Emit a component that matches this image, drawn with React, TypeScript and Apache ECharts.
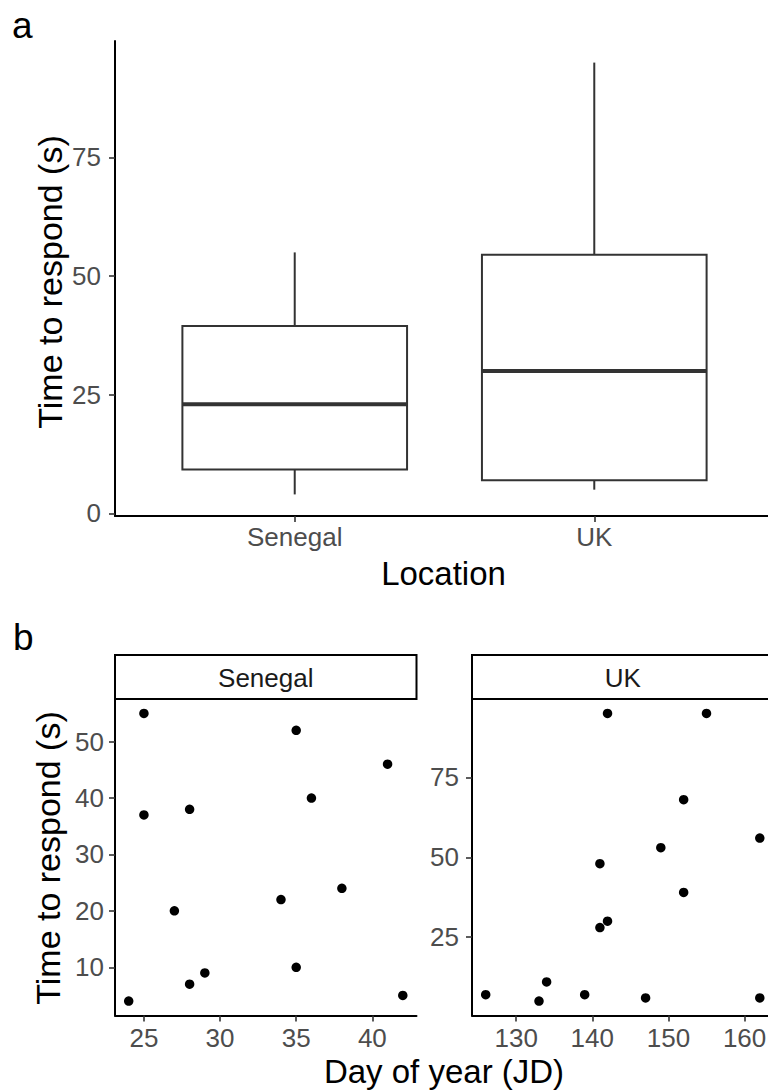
import React, { useEffect, useRef } from "react";
import * as echarts from "echarts";

// ---------- data ----------
const locations = ["Senegal", "UK"];
// box statistics per location: [lower whisker, Q1, median, Q3, upper whisker]
const senegalBox = [4, 9.25, 23, 39.5, 55];
const ukBox = [5, 7, 30, 54.5, 95];
const boxYTicks = [0, 25, 50, 75];

const senegalDay = [24, 25, 25, 27, 28, 28, 29, 34, 35, 35, 36, 38, 41, 42];
const senegalTime = [4, 55, 37, 20, 38, 7, 9, 22, 52, 10, 40, 24, 46, 5];
const ukDay = [126, 133, 134, 139, 141, 141, 142, 142, 147, 149, 152, 152, 155, 162, 162];
const ukTime = [7, 5, 11, 7, 48, 28, 95, 30, 6, 53, 68, 39, 95, 56, 6];

const senegalXTicks = [25, 30, 35, 40];
const senegalYTicks = [10, 20, 30, 40, 50];
const ukXTicks = [130, 140, 150, 160];
const ukYTicks = [25, 50, 75];

// ---------- style ----------
const FONT = "'Liberation Sans', Arial, Helvetica, sans-serif";
const TICK_COLOR = "#4d4d4d";
const LINE_COLOR = "#333333";

function valueAxis(
  gridIndex: number,
  min: number,
  max: number,
  ticks: number[],
  margin: number,
  formatter?: (v: number) => string
) {
  return {
    type: "value",
    gridIndex,
    min,
    max,
    axisLine: { show: true, onZero: false, lineStyle: { color: "#000", width: 2 } },
    axisTick: {
      show: true,
      customValues: ticks,
      length: 6,
      lineStyle: { color: LINE_COLOR, width: 1.6 },
    },
    axisLabel: {
      show: true,
      customValues: ticks,
      color: TICK_COLOR,
      fontSize: 26,
      fontFamily: FONT,
      margin,
      formatter: formatter ? formatter : (v: number) => String(v),
    },
    splitLine: { show: false },
    minorTick: { show: false },
  };
}

function buildOption() {
  const boxData = [senegalBox, ukBox].map((s, i) => [i + 1, ...s]);

  const stripW = 301.5;
  const panelTop = 699;
  const stripTop = 655;

  return {
    animation: false,
    backgroundColor: "#fff",
    textStyle: { fontFamily: FONT },
    grid: [
      { left: 115, top: 41, width: 659, height: 475, containLabel: false, outerBoundsMode: "none" },
      { left: 115, top: panelTop, width: stripW, height: 316.5, containLabel: false, outerBoundsMode: "none" },
      { left: 472, top: panelTop, width: stripW, height: 316.5, containLabel: false, outerBoundsMode: "none" },
    ],
    xAxis: [
      valueAxis(0, 0.4, 2.6, [1, 2], 8, (v: number) => locations[Math.round(v) - 1] ?? ""),
      valueAxis(1, 23.1, 42.9, senegalXTicks, 9),
      valueAxis(2, 124.2, 163.8, ukXTicks, 9),
    ],
    yAxis: [
      valueAxis(0, -0.55, 99.55, boxYTicks, 14),
      valueAxis(1, 1.45, 57.55, senegalYTicks, 11),
      valueAxis(2, 0.5, 99.5, ukYTicks, 13),
    ],
    series: [
      {
        type: "custom",
        xAxisIndex: 0,
        yAxisIndex: 0,
        encode: { x: 0, y: [1, 2, 3, 4, 5] },
        data: boxData,
        renderItem: (params: any, api: any) => {
          const x = api.value(0);
          const lo = api.value(1);
          const q1 = api.value(2);
          const med = api.value(3);
          const q3 = api.value(4);
          const hi = api.value(5);
          const half = 0.375;
          const pLo = api.coord([x, lo]);
          const pHi = api.coord([x, hi]);
          const pQ1L = api.coord([x - half, q1]);
          const pQ3R = api.coord([x + half, q3]);
          const pMedL = api.coord([x - half, med]);
          const pMedR = api.coord([x + half, med]);
          const cx = pLo[0];
          const stroke = { stroke: LINE_COLOR, lineWidth: 2, fill: "none" };
          return {
            type: "group",
            children: [
              {
                type: "line",
                shape: { x1: cx, y1: pHi[1], x2: cx, y2: pQ3R[1] },
                style: stroke,
              },
              {
                type: "line",
                shape: { x1: cx, y1: pQ1L[1], x2: cx, y2: pLo[1] },
                style: stroke,
              },
              {
                type: "rect",
                shape: {
                  x: pQ1L[0],
                  y: pQ3R[1],
                  width: pQ3R[0] - pQ1L[0],
                  height: pQ1L[1] - pQ3R[1],
                },
                style: { stroke: LINE_COLOR, lineWidth: 2, fill: "#fff" },
              },
              {
                type: "line",
                shape: { x1: pMedL[0], y1: pMedL[1], x2: pMedR[0], y2: pMedR[1] },
                style: { stroke: LINE_COLOR, lineWidth: 4 },
              },
            ],
          };
        },
      },
      {
        type: "scatter",
        name: "Senegal",
        xAxisIndex: 1,
        yAxisIndex: 1,
        symbolSize: 9.5,
        itemStyle: { color: "#000", opacity: 1 },
        data: senegalDay.map((d, i) => [d, senegalTime[i]]),
      },
      {
        type: "scatter",
        name: "UK",
        xAxisIndex: 2,
        yAxisIndex: 2,
        symbolSize: 9.5,
        itemStyle: { color: "#000", opacity: 1 },
        data: ukDay.map((d, i) => [d, ukTime[i]]),
      },
    ],
    graphic: {
      elements: [
        {
          type: "text",
          x: 12,
          y: 25.5,
          style: { text: "a", fontSize: 37, fill: "#000", fontFamily: FONT, align: "left", verticalAlign: "middle" },
        },
        {
          type: "text",
          x: 13,
          y: 637.5,
          style: { text: "b", fontSize: 37, fill: "#000", fontFamily: FONT, align: "left", verticalAlign: "middle" },
        },
        {
          type: "text",
          x: 49.5,
          y: 282,
          rotation: Math.PI / 2,
          style: {
            text: "Time to respond (s)",
            fontSize: 34,
            fill: "#000",
            fontFamily: FONT,
            align: "center",
            verticalAlign: "middle",
          },
        },
        {
          type: "text",
          x: 443.5,
          y: 573,
          style: { text: "Location", fontSize: 33, fill: "#000", fontFamily: FONT, align: "center", verticalAlign: "middle" },
        },
        {
          type: "text",
          x: 47.5,
          y: 858,
          rotation: Math.PI / 2,
          style: {
            text: "Time to respond (s)",
            fontSize: 34,
            fill: "#000",
            fontFamily: FONT,
            align: "center",
            verticalAlign: "middle",
          },
        },
        {
          type: "text",
          x: 444,
          y: 1071,
          style: {
            text: "Day of year (JD)",
            fontSize: 33,
            fill: "#000",
            fontFamily: FONT,
            align: "center",
            verticalAlign: "middle",
          },
        },
        {
          type: "rect",
          shape: { x: 115, y: stripTop, width: stripW, height: panelTop - stripTop },
          style: { fill: "#fff", stroke: "#000", lineWidth: 2 },
        },
        {
          type: "text",
          x: 115 + stripW / 2,
          y: 678,
          style: { text: "Senegal", fontSize: 26, fill: "#1a1a1a", fontFamily: FONT, align: "center", verticalAlign: "middle" },
        },
        {
          type: "rect",
          shape: { x: 472, y: stripTop, width: stripW, height: panelTop - stripTop },
          style: { fill: "#fff", stroke: "#000", lineWidth: 2 },
        },
        {
          type: "text",
          x: 472 + stripW / 2,
          y: 678,
          style: { text: "UK", fontSize: 26, fill: "#1a1a1a", fontFamily: FONT, align: "center", verticalAlign: "middle" },
        },
      ],
    },
  };
}

export default function App() {
  const ref = useRef<HTMLDivElement>(null);
  useEffect(() => {
    if (!ref.current) return;
    const chart = echarts.init(ref.current, null, { renderer: "svg" });
    chart.setOption(buildOption() as any);
    return () => {
      chart.dispose();
    };
  }, []);
  return (
    <div
      ref={ref}
      style={{ position: "absolute", left: 0, top: 0, width: 768, height: 1090, background: "#fff" }}
    />
  );
}
